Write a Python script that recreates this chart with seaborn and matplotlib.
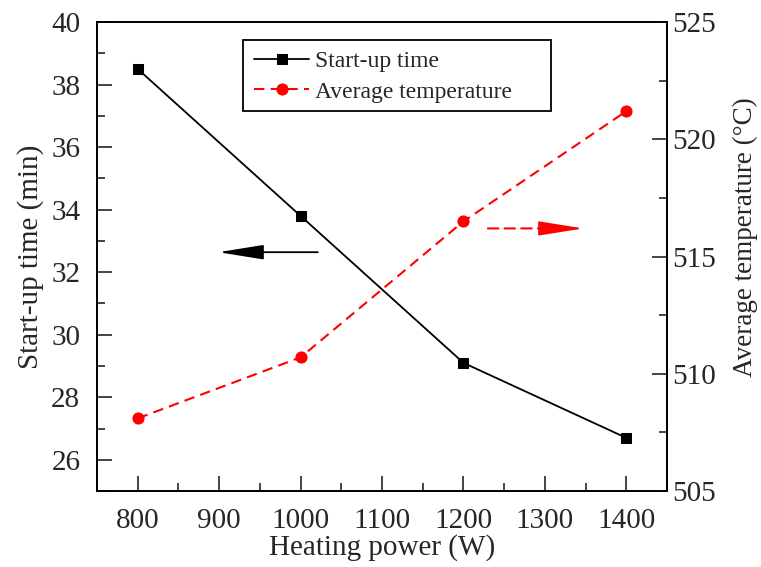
import numpy as np
import pandas as pd
import seaborn as sns
import matplotlib
matplotlib.use("Agg")
import matplotlib.pyplot as plt
from matplotlib.ticker import MultipleLocator
from matplotlib.patches import Rectangle

power = [800, 1000, 1200, 1400]
startup_time = [38.5, 33.8, 29.1, 26.7]
avg_temp = [508.1, 510.7, 516.5, 521.2]

sns.set_style("ticks")
plt.rcParams['font.family'] = ['Liberation Serif', 'DejaVu Serif']
plt.rcParams['mathtext.fontset'] = 'stix'

df = pd.DataFrame({"power": power, "time": startup_time, "temp": avg_temp})

fig = plt.figure(figsize=(7.61, 5.67), dpi=100)
ax = fig.add_axes([0.1275, 0.134, 0.749, 0.827])
ax2 = ax.twinx()

sns.lineplot(data=df, x="power", y="time", ax=ax, color="black", marker="s",
             markersize=7, markeredgecolor="black", linewidth=1.3,
             label="Start-up time", legend=False)
sns.lineplot(data=df, x="power", y="temp", ax=ax2, color="red", marker="o",
             markersize=8, markeredgecolor="red", linewidth=1.5,
             linestyle=(0, (5, 3)), label="Average temperature", legend=False)

ax.set_xlim(750, 1450)
ax.set_ylim(25, 40)
ax2.set_ylim(505, 525)

ax.xaxis.set_major_locator(MultipleLocator(100))
ax.xaxis.set_minor_locator(MultipleLocator(50))
ax.yaxis.set_major_locator(MultipleLocator(2))
ax.yaxis.set_minor_locator(MultipleLocator(1))
ax2.yaxis.set_major_locator(MultipleLocator(5))
ax2.yaxis.set_minor_locator(MultipleLocator(2.5))

ax.set_yticks([26, 28, 30, 32, 34, 36, 38, 40])

for a in (ax, ax2):
    a.tick_params(which="major", direction="in", length=11, width=1.2, labelsize=21)
    a.tick_params(which="minor", direction="in", length=6, width=1.2)
    for s in a.spines.values():
        s.set_linewidth(1.3)
        s.set_color("black")
        s.set_visible(True)
ax.tick_params(axis="y", which="both", right=False, pad=12)
ax.tick_params(axis="x", which="both", top=False, pad=12)
ax2.tick_params(axis="y", which="both", left=False, right=True, pad=4)

ax.set_xlabel("Heating power (W)", fontsize=21, labelpad=0)
ax.set_ylabel("Start-up time (min)", fontsize=21, labelpad=5)
ax2.set_ylabel("Average temperature (°C)", fontsize=19.5)
ax2.yaxis.set_label_coords(1.116, 0.5416)

# direction arrows
ahead = "-|>,head_length=2.8,head_width=0.45"
ax.annotate("", xy=(899, 32.64), xytext=(1021, 32.64),
            arrowprops=dict(arrowstyle=ahead, color="black", lw=1.3,
                            shrinkA=0, shrinkB=0))
ax2.annotate("", xy=(1305, 516.2), xytext=(1230, 516.2),
             arrowprops=dict(arrowstyle="-", color="red", lw=1.5,
                             linestyle=(0, (5, 3)), shrinkA=0, shrinkB=0))
ax2.annotate("", xy=(1347, 516.2), xytext=(1300, 516.2),
             arrowprops=dict(arrowstyle=ahead, color="red", lw=1.2,
                             shrinkA=0, shrinkB=0))

# legend box (Origin style, wider than content)
ax2.add_patch(Rectangle((0.256, 0.810), 0.54, 0.1516, transform=ax2.transAxes,
                        facecolor="white", edgecolor="black", linewidth=1.3,
                        zorder=4))
h1, l1 = ax.get_legend_handles_labels()
h2, l2 = ax2.get_legend_handles_labels()
leg = ax2.legend(h1 + h2, l1 + l2, loc="center left", bbox_to_anchor=(0.2754, 0.884),
                 fontsize=17, frameon=False, handlelength=2.33, borderpad=0,
                 labelspacing=0.4, handletextpad=0.25, borderaxespad=0)
leg.set_zorder(5)

fig.savefig("out.png", dpi=100)
